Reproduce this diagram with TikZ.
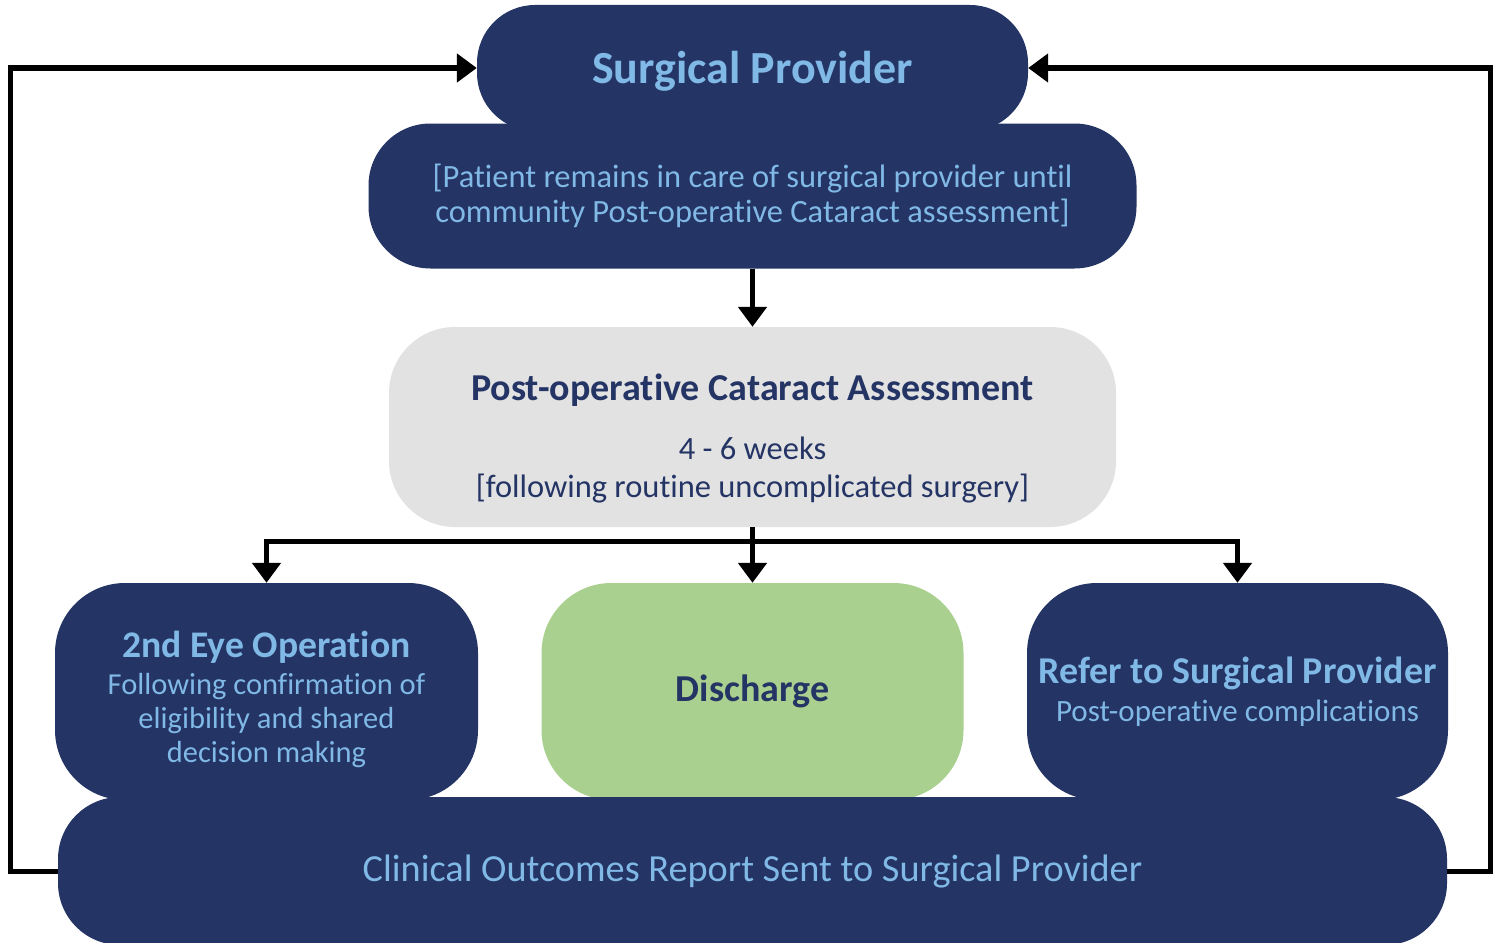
\documentclass[tikz,border=0pt]{standalone}
\usepackage{fontspec}
\setmainfont{Carlito}[Ligatures=NoCommon]
\usetikzlibrary{arrows.meta}
\definecolor{navy}{RGB}{36,52,100}
\definecolor{sky}{RGB}{128,184,230}
\definecolor{pale}{RGB}{226,226,226}
\definecolor{leaf}{RGB}{169,208,142}
\begin{document}
\begin{tikzpicture}[x=1pt,y=-1pt,
  box/.style={inner sep=0pt, align=center, draw=none},
  darkbox/.style={box, fill=navy, text=sky},
  flow/.style={line width=5pt, line join=miter, draw=black},
  arr/.style={flow, -{Triangle[width=28pt,length=20pt]}},
]
\useasboundingbox (0,0) rectangle (1501,942);
\fill[white] (0,0) rectangle (1501,942);

% top stack: provider and care note
\node[darkbox, rounded corners=58pt, minimum width=551pt, minimum height=126pt,
      font=\fontsize{46}{50}\selectfont\bfseries] (sp) at (752.5,68) {\rule{0pt}{38pt}Surgical Provider};
\node[darkbox, rounded corners=62pt, minimum width=768pt, minimum height=145pt,
      font=\fontsize{32.5}{35}\selectfont] (pc) at (752.5,196)
  {{[}Patient remains in care of surgical provider until\\community Post-operative Cataract assessment]};

% assessment
\node[box, fill=pale, text=navy, rounded corners=66pt, minimum width=727pt, minimum height=200pt,
      font=\fontsize{32.5}{38}\selectfont] (pa) at (752.5,427)
  {\rule{0pt}{50pt}{\fontsize{38}{38}\selectfont\bfseries Post-operative Cataract Assessment}\\[21pt]
   4 - 6 weeks\\
   {[}following routine uncomplicated surgery]};

% outcomes row
\node[darkbox, rounded corners=70pt, minimum width=423pt, minimum height=217pt,
      font=\fontsize{30.5}{34}\selectfont] (eye) at (266.5,691.5)
  {\rule{0pt}{43pt}{\fontsize{37.6}{40}\selectfont\bfseries 2nd Eye Operation}\\[3pt]
   Following confirmation of\\
   eligibility and shared\\
   decision making};
\node[box, fill=leaf, text=navy, rounded corners=70pt, minimum width=422pt, minimum height=217pt,
      font=\fontsize{38}{40}\selectfont\bfseries] (dis) at (752.5,691.5) {Discharge};
\node[darkbox, rounded corners=70pt, minimum width=421pt, minimum height=217pt,
      font=\fontsize{31}{38}\selectfont] (ref) at (1237.5,691.5)
  {{\fontsize{37.9}{40}\selectfont\bfseries Refer to Surgical Provider}\\
   Post-operative complications};

% report
\node[darkbox, rounded corners=62pt, minimum width=1389pt, minimum height=148pt,
      font=\fontsize{38.3}{40}\selectfont] (cor) at (752.5,871) {Clinical Outcomes Report Sent to Surgical Provider};

% connectors
\coordinate (lft) at (10,871);
\coordinate (rgt) at (1490,871);
\coordinate (br) at (752.5,541);
\draw[arr] (cor.west) -- (lft) |- (sp.west);
\draw[arr] (cor.east) -- (rgt) |- (sp.east);
\draw[arr] (pc.south) -- (pa.north);
\draw[flow] (pa.south) -- (br);
\draw[arr] (br) -- (dis.north);
\draw[arr] (br) -| (eye.north);
\draw[arr] (br) -| (ref.north);
\end{tikzpicture}
\end{document}
